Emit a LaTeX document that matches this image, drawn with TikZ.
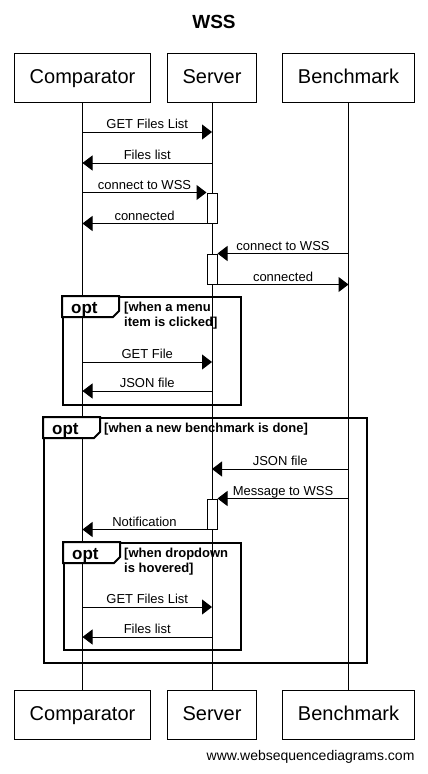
\documentclass[tikz,border=0pt]{standalone}
\usepackage{fontspec}
\setmainfont{Liberation Sans}
\usetikzlibrary{arrows.meta, positioning, calc}

\begin{document}
\begin{tikzpicture}[
    x=1pt, y=-1pt,
    actor/.style={draw, line width=1pt, inner xsep=15pt, minimum height=49pt,
                  text height=15pt, text depth=4pt, font=\fontsize{20}{24}\selectfont},
    life/.style={line width=1pt},
    act/.style={draw, fill=white, line width=1pt, minimum width=10pt,
                minimum height=30pt, inner sep=0pt},
    msg/.style={-{Triangle[length=10pt, width=15pt]}, line width=1pt},
    lbl/.style={midway, anchor=base, yshift=3.5pt, font=\fontsize{13}{15}\selectfont},
    frame/.style={draw, line width=2pt, inner sep=0pt},
    tab/.style={draw, fill=white, line width=2pt},
    optlbl/.style={anchor=base west, inner sep=0pt, font=\bfseries\fontsize{17}{20}\selectfont},
    cond/.style={anchor=north west, inner sep=0pt, align=left,
                 font=\bfseries\fontsize{13}{15}\selectfont}
]
    \useasboundingbox (0,0) rectangle (428,774);

    \node[font=\bfseries\fontsize{19}{23}\selectfont] (title) at (214,22) {WSS};

    % participants
    \node[actor] (comp) at (82.5,77.5) {Comparator};
    \node[actor] (serv) at (212,77.5) {Server};
    \node[actor] (bench) at (348.5,77.5) {Benchmark};
    \node[actor] (comp2) at (82.5,714.5) {Comparator};
    \node[actor] (serv2) at (212,714.5) {Server};
    \node[actor] (bench2) at (348.5,714.5) {Benchmark};

    \draw[life] (comp.south) -- (comp2.north);
    \draw[life] (serv.south) -- (serv2.north);
    \draw[life] (bench.south) -- (bench2.north);

    % opt frames
    \node[frame, minimum width=178pt, minimum height=108pt] (opt1) at (152,351) {};
    \node[frame, minimum width=323pt, minimum height=245pt] (opt2) at (205.5,540.5) {};
    \node[frame, minimum width=177pt, minimum height=107pt] (opt3) at (152.5,596.5) {};

    \draw[tab] (opt1.north west) -- ++(57,0) -- ++(0,15) -- ++(-6,6) -- ++(-51,0) -- cycle;
    \draw[tab] (opt2.north west) -- ++(57,0) -- ++(0,15) -- ++(-6,6) -- ++(-51,0) -- cycle;
    \draw[tab] (opt3.north west) -- ++(57,0) -- ++(0,15) -- ++(-6,6) -- ++(-51,0) -- cycle;

    \node[optlbl] (opt1l) at ($(opt1.north west)+(9,17.5)$) {opt};
    \node[optlbl] (opt2l) at ($(opt2.north west)+(9,17.5)$) {opt};
    \node[optlbl] (opt3l) at ($(opt3.north west)+(9,17.5)$) {opt};

    \node[cond] (opt1c) at ($(opt1.north west)+(62,5.5)$) {[when a menu\\item is clicked]};
    \node[cond] (opt2c) at ($(opt2.north west)+(61,5.5)$) {[when a new benchmark is done]};
    \node[cond] (opt3c) at ($(opt3.north west)+(61,5.5)$) {[when dropdown\\is hovered]};

    % activations
    \node[act] (act1) at (212,208) {};
    \node[act] (act2) at (212,269) {};
    \node[act] (act3) at (212,514) {};

    % message rows
    \coordinate (m1) at (0,132);
    \coordinate (m2) at (0,163);
    \coordinate (m3) at (0,362);
    \coordinate (m4) at (0,391);
    \coordinate (m5) at (0,469);
    \coordinate (m6) at (0,607);
    \coordinate (m7) at (0,637);

    \draw[msg] (comp |- m1) -- (serv |- m1) node[lbl] {GET Files List};
    \draw[msg] (serv |- m2) -- (comp |- m2) node[lbl] {Files list};
    \draw[msg] (comp |- act1.north) -- (act1.north west) node[lbl] {connect to WSS};
    \draw[msg] (act1.south west) -- (comp |- act1.south) node[lbl] {connected};
    \draw[msg] (bench |- act2.north) -- (act2.north east) node[lbl] {connect to WSS};
    \draw[msg] (act2.south east) -- (bench |- act2.south) node[lbl] {connected};

    \draw[msg] (comp |- m3) -- (serv |- m3) node[lbl] {GET File};
    \draw[msg] (serv |- m4) -- (comp |- m4) node[lbl] {JSON file};

    \draw[msg] (bench |- m5) -- (serv |- m5) node[lbl] {JSON file};
    \draw[msg] (bench |- act3.north) -- (act3.north east) node[lbl] {Message to WSS};
    \draw[msg] (act3.south west) -- (comp |- act3.south) node[lbl] {Notification};

    \draw[msg] (comp |- m6) -- (serv |- m6) node[lbl] {GET Files List};
    \draw[msg] (serv |- m7) -- (comp |- m7) node[lbl] {Files list};

    \node[anchor=east, font=\fontsize{14}{17}\selectfont] (footer) at (418,757)
        {www.websequencediagrams.com};
\end{tikzpicture}
\end{document}
